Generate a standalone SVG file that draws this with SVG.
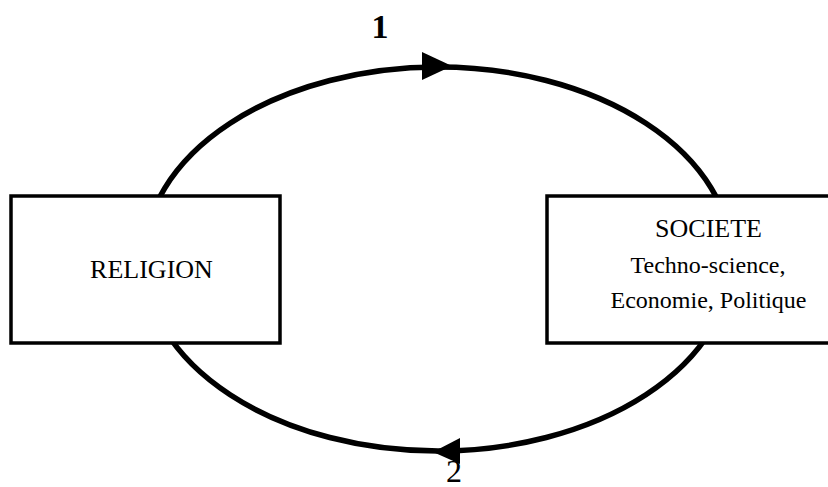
<svg xmlns="http://www.w3.org/2000/svg" width="828" height="487" viewBox="0 0 828 487">
<style>
.box{fill:#fff;stroke:#000;stroke-width:3.5}
.t{font-family:"Liberation Serif","Times New Roman",serif;fill:#000;text-anchor:middle}
.cycle{fill:none;stroke:#000;stroke-width:5.5}
</style>
<rect width="828" height="487" fill="#fff"/>
<g id="connectors">
<ellipse class="cycle" cx="438" cy="259" rx="294" ry="192"/>
<polygon points="452,66 422,52 422,80" fill="#000"/>
<polygon points="433,452 460,438 460,464" fill="#000"/>
<text class="t" x="380" y="38" font-size="34" font-weight="bold">1</text>
<text class="t" x="454" y="482" font-size="32">2</text>
</g>
<g id="religion">
<rect class="box" x="11" y="196" width="269" height="147"/>
<text class="t" x="151.5" y="278" font-size="26">RELIGION</text>
</g>
<g id="societe">
<rect class="box" x="547" y="196" width="290" height="147"/>
<text class="t" x="708.5" y="237" font-size="26">SOCIETE</text>
<text class="t" x="708" y="273" font-size="24">Techno-science,</text>
<text class="t" x="708.5" y="308" font-size="24">Economie, Politique</text>
</g>
</svg>
